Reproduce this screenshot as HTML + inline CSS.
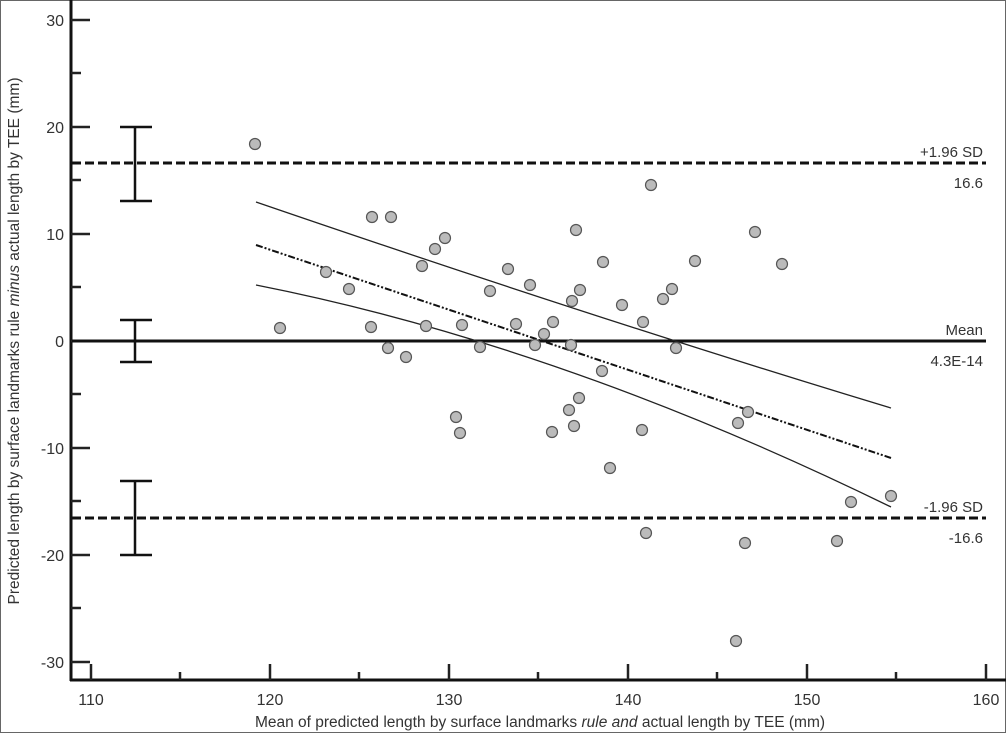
<!DOCTYPE html>
<html><head><style>
html,body{margin:0;padding:0;background:#fff}
svg{display:block}
text{font-family:"Liberation Sans",Arial,sans-serif;fill:#333}
</style></head><body>
<svg width="1007" height="734" viewBox="0 0 1007 734" xmlns="http://www.w3.org/2000/svg">
<rect x="0.5" y="0.5" width="1005" height="732" fill="#fff" stroke="#666" stroke-width="1"/>
<line x1="71" y1="0" x2="71" y2="681" stroke="#111" stroke-width="3"/>
<line x1="70" y1="680" x2="1006" y2="680" stroke="#111" stroke-width="3"/>
<g stroke="#222" stroke-width="2.5">
<line x1="71" y1="20" x2="90" y2="20"/><line x1="71" y1="73" x2="81" y2="73"/>
<line x1="71" y1="127" x2="90" y2="127"/><line x1="71" y1="180" x2="81" y2="180"/>
<line x1="71" y1="234" x2="90" y2="234"/><line x1="71" y1="287" x2="81" y2="287"/>
<line x1="71" y1="341" x2="90" y2="341"/><line x1="71" y1="394" x2="81" y2="394"/>
<line x1="71" y1="448" x2="90" y2="448"/><line x1="71" y1="501" x2="81" y2="501"/>
<line x1="71" y1="555" x2="90" y2="555"/><line x1="71" y1="608" x2="81" y2="608"/>
<line x1="71" y1="662" x2="90" y2="662"/>
<line x1="91" y1="680" x2="91" y2="664"/><line x1="180" y1="680" x2="180" y2="672"/>
<line x1="270" y1="680" x2="270" y2="664"/><line x1="359" y1="680" x2="359" y2="672"/>
<line x1="449" y1="680" x2="449" y2="664"/><line x1="538" y1="680" x2="538" y2="672"/>
<line x1="628" y1="680" x2="628" y2="664"/><line x1="717" y1="680" x2="717" y2="672"/>
<line x1="807" y1="680" x2="807" y2="664"/><line x1="896" y1="680" x2="896" y2="672"/>
<line x1="986" y1="680" x2="986" y2="664"/>
</g>
<g font-size="16" text-anchor="end">
<text x="64" y="26">30</text><text x="64" y="133">20</text><text x="64" y="240">10</text>
<text x="64" y="347">0</text><text x="64" y="454">-10</text><text x="64" y="561">-20</text><text x="64" y="668">-30</text>
</g>
<g font-size="16" text-anchor="middle">
<text x="91" y="705">110</text><text x="270" y="705">120</text><text x="449" y="705">130</text>
<text x="628" y="705">140</text><text x="807" y="705">150</text><text x="986" y="705">160</text>
</g>
<text x="540" y="727" font-size="15.5" text-anchor="middle">Mean of predicted length by surface landmarks <tspan font-style="italic">rule and</tspan> actual length by TEE (mm)</text>
<text transform="translate(19,341) rotate(-90)" font-size="15.5" text-anchor="middle">Predicted length by surface landmarks rule <tspan font-style="italic">minus</tspan> actual length by TEE (mm)</text>
<line x1="72" y1="163" x2="986" y2="163" stroke="#111" stroke-width="3" stroke-dasharray="9,4"/>
<line x1="72" y1="518" x2="986" y2="518" stroke="#111" stroke-width="3" stroke-dasharray="9,4"/>
<line x1="72" y1="341" x2="986" y2="341" stroke="#111" stroke-width="3"/>
<g font-size="15" text-anchor="end">
<text x="983" y="157">+1.96 SD</text><text x="983" y="188">16.6</text>
<text x="983" y="335">Mean</text><text x="983" y="366">4.3E-14</text>
<text x="983" y="512">-1.96 SD</text><text x="983" y="543">-16.6</text>
</g>
<g stroke="#111" stroke-width="2.5">
<line x1="135" y1="127" x2="135" y2="202"/><line x1="120" y1="127" x2="152" y2="127"/><line x1="120" y1="201" x2="152" y2="201"/>
<line x1="135" y1="320" x2="135" y2="362"/><line x1="120" y1="320" x2="152" y2="320"/><line x1="120" y1="362" x2="152" y2="362"/>
<line x1="135" y1="481" x2="135" y2="555"/><line x1="120" y1="481" x2="152" y2="481"/><line x1="120" y1="555" x2="152" y2="555"/>
</g>
<line x1="256" y1="245" x2="891" y2="458" stroke="#111" stroke-width="2" stroke-dasharray="7,2,2,2,2,2"/>
<path d="M256,202 Q600,320 891,408" fill="none" stroke="#222" stroke-width="1.3"/>
<path d="M256,285 Q560,345 891,507" fill="none" stroke="#222" stroke-width="1.3"/>
<g fill="#bbb" stroke="#555" stroke-width="1.2">
<circle cx="255" cy="144" r="5.5"/><circle cx="280" cy="328" r="5.5"/><circle cx="326" cy="272" r="5.5"/>
<circle cx="349" cy="289" r="5.5"/><circle cx="372" cy="217" r="5.5"/><circle cx="391" cy="217" r="5.5"/>
<circle cx="371" cy="327" r="5.5"/><circle cx="388" cy="348" r="5.5"/><circle cx="422" cy="266" r="5.5"/>
<circle cx="426" cy="326" r="5.5"/><circle cx="435" cy="249" r="5.5"/><circle cx="445" cy="238" r="5.5"/>
<circle cx="406" cy="357" r="5.5"/><circle cx="456" cy="417" r="5.5"/><circle cx="460" cy="433" r="5.5"/>
<circle cx="462" cy="325" r="5.5"/><circle cx="480" cy="347" r="5.5"/><circle cx="490" cy="291" r="5.5"/>
<circle cx="508" cy="269" r="5.5"/><circle cx="516" cy="324" r="5.5"/><circle cx="530" cy="285" r="5.5"/>
<circle cx="535" cy="345" r="5.5"/><circle cx="544" cy="334" r="5.5"/><circle cx="552" cy="432" r="5.5"/>
<circle cx="553" cy="322" r="5.5"/><circle cx="576" cy="230" r="5.5"/><circle cx="580" cy="290" r="5.5"/>
<circle cx="572" cy="301" r="5.5"/><circle cx="571" cy="345" r="5.5"/><circle cx="569" cy="410" r="5.5"/>
<circle cx="574" cy="426" r="5.5"/><circle cx="579" cy="398" r="5.5"/><circle cx="603" cy="262" r="5.5"/>
<circle cx="602" cy="371" r="5.5"/><circle cx="610" cy="468" r="5.5"/><circle cx="622" cy="305" r="5.5"/>
<circle cx="643" cy="322" r="5.5"/><circle cx="642" cy="430" r="5.5"/><circle cx="646" cy="533" r="5.5"/>
<circle cx="651" cy="185" r="5.5"/><circle cx="663" cy="299" r="5.5"/><circle cx="672" cy="289" r="5.5"/>
<circle cx="676" cy="348" r="5.5"/><circle cx="695" cy="261" r="5.5"/><circle cx="738" cy="423" r="5.5"/>
<circle cx="748" cy="412" r="5.5"/><circle cx="745" cy="543" r="5.5"/><circle cx="755" cy="232" r="5.5"/>
<circle cx="782" cy="264" r="5.5"/><circle cx="736" cy="641" r="5.5"/><circle cx="837" cy="541" r="5.5"/>
<circle cx="851" cy="502" r="5.5"/><circle cx="891" cy="496" r="5.5"/>
</g>
</svg>
</body></html>
